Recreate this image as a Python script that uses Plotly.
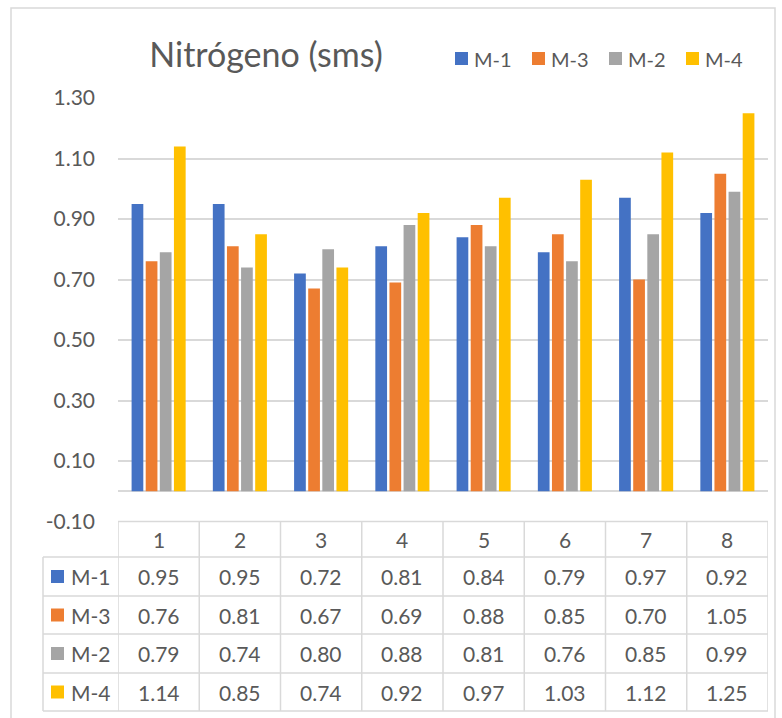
import plotly.graph_objects as go

# Sample numbers (column headers of the data table)
categories = ["1", "2", "3", "4", "5", "6", "7", "8"]

# Series in drawing order
series_names = ["M-1", "M-3", "M-2", "M-4"]
series_colors = ["#4472C4", "#ED7D31", "#A5A5A5", "#FFC000"]
m1 = [0.95, 0.95, 0.72, 0.81, 0.84, 0.79, 0.97, 0.92]
m3 = [0.76, 0.81, 0.67, 0.69, 0.88, 0.85, 0.70, 1.05]
m2 = [0.79, 0.74, 0.80, 0.88, 0.81, 0.76, 0.85, 0.99]
m4 = [1.14, 0.85, 0.74, 0.92, 0.97, 1.03, 1.12, 1.25]
series_values = [m1, m3, m2, m4]

# value-axis ticks
y_ticks = [-0.10, 0.10, 0.30, 0.50, 0.70, 0.90, 1.10, 1.30]

W, H = 782, 718
FONT = "Lato"
TXT = "#595959"
LINE = "#d9d9d9"


def px(x):
    return x / W


def py(y):
    return 1 - y / H


fig = go.Figure()
for name, color, vals in zip(series_names, series_colors, series_values):
    fig.add_trace(go.Bar(x=categories, y=vals, name=name,
                         marker=dict(color=color, line=dict(width=0)),
                         showlegend=False))

shapes = []
annotations = []

# outer chart border
shapes.append(dict(type="rect", xref="paper", yref="paper",
                   x0=px(11), x1=px(775), y0=py(8), y1=py(740),
                   line=dict(color=LINE, width=1.5), fillcolor="rgba(0,0,0,0)",
                   layer="below"))

# legend at the top right
leg_x = [455, 532, 609, 686]
for lx, name, color in zip(leg_x, series_names, series_colors):
    shapes.append(dict(type="rect", xref="paper", yref="paper",
                       x0=px(lx), x1=px(lx + 13), y0=py(52), y1=py(65),
                       line=dict(width=0), fillcolor=color))
    annotations.append(dict(xref="paper", yref="paper", x=px(lx + 17), y=py(59),
                            text=name, showarrow=False, xanchor="left", yanchor="middle",
                            font=dict(family=FONT, size=20, color=TXT)))

# data table below the plot
row_lines = [521.5, 557, 596, 634, 673, 711]
row_centers = [539, 576.5, 615, 653.5, 692]
tbl_left, legcol_left = 118, 43

# horizontal rules
shapes.append(dict(type="line", xref="paper", yref="paper",
                   x0=px(tbl_left), x1=px(768), y0=py(row_lines[0]), y1=py(row_lines[0]),
                   line=dict(color=LINE, width=1.5)))
for ry in row_lines[1:]:
    shapes.append(dict(type="line", xref="paper", yref="paper",
                       x0=px(legcol_left), x1=px(768), y0=py(ry), y1=py(ry),
                       line=dict(color=LINE, width=1.5)))
# vertical rules
shapes.append(dict(type="line", xref="paper", yref="paper",
                   x0=px(legcol_left), x1=px(legcol_left), y0=py(row_lines[1]), y1=py(row_lines[-1]),
                   line=dict(color=LINE, width=1.5)))
for k in range(len(categories) + 1):
    shapes.append(dict(type="line", xref="x", yref="paper",
                       x0=k - 0.5, x1=k - 0.5, y0=py(row_lines[0]), y1=py(row_lines[-1]),
                       line=dict(color=LINE, width=1.5)))

# header row (category positions are indices on the category axis)
for k, c in enumerate(categories):
    annotations.append(dict(xref="x", yref="paper", x=k, y=py(row_centers[0]),
                            text=c, showarrow=False, xanchor="center", yanchor="middle",
                            font=dict(family=FONT, size=21, color=TXT)))

# series rows
for i, (name, color, vals) in enumerate(zip(series_names, series_colors, series_values)):
    cy = row_centers[i + 1]
    shapes.append(dict(type="rect", xref="paper", yref="paper",
                       x0=px(51), x1=px(64), y0=py(cy - 6.5), y1=py(cy + 6.5),
                       line=dict(width=0), fillcolor=color))
    annotations.append(dict(xref="paper", yref="paper", x=px(69), y=py(cy),
                            text=name, showarrow=False, xanchor="left", yanchor="middle",
                            font=dict(family=FONT, size=21, color=TXT)))
    for k, v in enumerate(vals):
        annotations.append(dict(xref="x", yref="paper", x=k, y=py(cy),
                                text=f"{v:.2f}", showarrow=False,
                                xanchor="center", yanchor="middle",
                                font=dict(family=FONT, size=21, color=TXT)))

fig.update_layout(
    width=W, height=H,
    margin=dict(l=0, r=0, t=0, b=0, pad=0, autoexpand=False),
    paper_bgcolor="white", plot_bgcolor="white",
    barmode="group", bargap=0.305, bargroupgap=0.17,
    title=dict(text="Nitrógeno (sms)", x=px(266), xanchor="center",
               y=py(55), yanchor="middle", automargin=False,
               font=dict(family=FONT, size=34, color=TXT)),
    xaxis=dict(type="category", domain=[px(118), px(768)], range=[-0.5, 7.5],
               showticklabels=False, showgrid=False, showline=False, zeroline=False,
               automargin=False),
    yaxis=dict(domain=[py(521.5), py(98)], range=[-0.1, 1.3],
               tickmode="array", tickvals=y_ticks,
               ticktext=[f"{t:.2f}" for t in y_ticks],
               showgrid=True, gridcolor=LINE, gridwidth=1.5,
               zeroline=True, zerolinecolor=LINE, zerolinewidth=1.5,
               showline=False, ticks="", ticklabelstandoff=22, automargin=False,
               tickfont=dict(family=FONT, size=21, color=TXT)),
    shapes=shapes,
    annotations=annotations,
    showlegend=False,
)

fig.write_html("out.html")
